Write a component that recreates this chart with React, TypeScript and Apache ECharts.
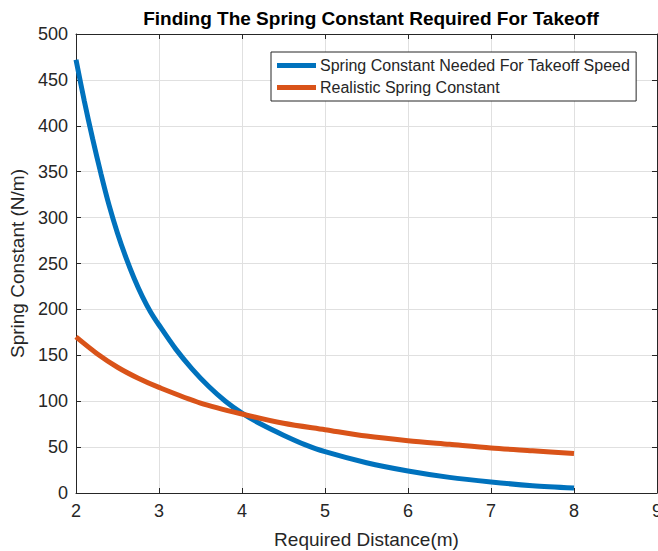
import React, { useEffect, useRef } from "react";
import * as echarts from "echarts";

const titleText = "Finding The Spring Constant Required For Takeoff";
const xName = "Required Distance(m)";
const yName = "Spring Constant (N/m)";
const seriesNames = ["Spring Constant Needed For Takeoff Speed", "Realistic Spring Constant"];

const blueX = [2, 2.1, 2.2, 2.3, 2.4, 2.5, 2.6, 2.7, 2.8, 2.9, 3, 3.2, 3.4, 3.6, 3.8, 4, 4.25, 4.5, 4.75, 5, 5.5, 6, 6.5, 7, 7.5, 8];
const blueY = [472, 427, 386, 348, 313, 283, 257, 234, 214, 197, 183, 157, 135, 116, 100, 87, 74, 63, 53, 45, 33, 24, 17, 12, 8, 5.5];

const orangeX = [2, 2.25, 2.5, 2.75, 3, 3.5, 4, 4.5, 5, 5.5, 6, 6.5, 7, 7.5, 8];
const orangeY = [170, 152, 137, 125, 115, 98, 86, 76, 69, 62, 57, 53, 49, 46, 43];

const xTicks = { min: 2, max: 9, interval: 1 };
const yTicks = { min: 0, max: 500, interval: 50 };

const FONT = "Liberation Sans, Arial, Helvetica, sans-serif";
const AX = "#262626";
const GRID = "#e0e0e0";

export default function App() {
  const ref = useRef<HTMLDivElement>(null);
  useEffect(() => {
    if (!ref.current) return;
    const chart = echarts.init(ref.current, null, { renderer: "svg" });
    const tickStyle = { show: true, inside: true, length: 5, lineStyle: { color: AX, width: 1 } };
    chart.setOption({
      animation: false,
      backgroundColor: "#ffffff",
      title: {
        text: titleText,
        left: 366,
        top: 4,
        textAlign: "center",
        textStyle: { fontFamily: FONT, fontSize: 19, fontWeight: "bold", color: "#000" },
      },
      grid: { left: 76, right: 1, top: 34, bottom: 58, containLabel: false, outerBoundsMode: "none" },
      legend: {
        orient: "vertical",
        left: 271,
        top: 52,
        padding: [5, 6, 5, 6],
        itemGap: 5,
        itemWidth: 39,
        itemHeight: 5,
        icon: "rect",
        borderColor: AX,
        borderWidth: 1,
        backgroundColor: "#ffffff",
        textStyle: { fontFamily: FONT, fontSize: 16, color: AX, lineHeight: 17, padding: [0, 0, 0, -1] },
        data: seriesNames,
      },
      xAxis: [
        {
          type: "value",
          ...xTicks,
          name: xName,
          nameLocation: "middle",
          nameGap: 37,
          nameTextStyle: { fontFamily: FONT, fontSize: 19, color: AX },
          axisLine: { show: true, onZero: false, lineStyle: { color: AX, width: 1 } },
          axisTick: tickStyle,
          axisLabel: { fontFamily: FONT, fontSize: 18, color: AX, margin: 9 },
          splitLine: { show: true, lineStyle: { color: GRID, width: 1 } },
        },
        {
          type: "value",
          ...xTicks,
          position: "top",
          axisLine: { show: true, onZero: false, lineStyle: { color: AX, width: 1 } },
          axisTick: tickStyle,
          axisLabel: { show: false },
          splitLine: { show: false },
        },
      ],
      yAxis: [
        {
          type: "value",
          ...yTicks,
          name: yName,
          nameLocation: "middle",
          nameGap: 44,
          nameTextStyle: { fontFamily: FONT, fontSize: 19, color: AX },
          axisLine: { show: true, onZero: false, lineStyle: { color: AX, width: 1 } },
          axisTick: tickStyle,
          axisLabel: { fontFamily: FONT, fontSize: 18, color: AX, margin: 8 },
          splitLine: { show: true, lineStyle: { color: GRID, width: 1 } },
        },
        {
          type: "value",
          ...yTicks,
          position: "right",
          axisLine: { show: true, onZero: false, lineStyle: { color: AX, width: 1 } },
          axisTick: tickStyle,
          axisLabel: { show: false },
          splitLine: { show: false },
        },
      ],
      series: [
        {
          name: seriesNames[0],
          type: "line",
          smooth: 0.3,
          showSymbol: false,
          symbol: "none",
          lineStyle: { color: "#0072BD", width: 5 },
          itemStyle: { color: "#0072BD" },
          data: blueX.map((x, i) => [x, blueY[i]]),
          z: 3,
        },
        {
          name: seriesNames[1],
          type: "line",
          smooth: 0.3,
          showSymbol: false,
          symbol: "none",
          lineStyle: { color: "#D95319", width: 5 },
          itemStyle: { color: "#D95319" },
          data: orangeX.map((x, i) => [x, orangeY[i]]),
          z: 4,
        },
      ],
    });
    return () => chart.dispose();
  }, []);
  return <div ref={ref} style={{ position: "fixed", left: 0, top: 0, width: 658, height: 551 }} />;
}
